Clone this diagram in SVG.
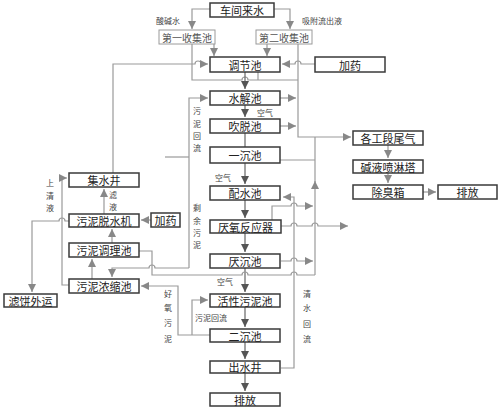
<svg xmlns="http://www.w3.org/2000/svg" width="500" height="411" viewBox="0 0 500 411">
<style>
.b rect{fill:#fff;stroke:#3a3a3a;stroke-width:1.5}
.g rect{fill:#fff;stroke:#9a9a9a;stroke-width:1}
text{font-family:"Noto Sans CJK SC","Noto Sans CJK JP",sans-serif;fill:#222}
.t{font-size:11px;text-anchor:middle;dominant-baseline:central}
.g text{fill:#555}
.s{font-size:8px;fill:#444}
.v{font-size:8px;fill:#444;text-anchor:middle;dominant-baseline:central}
.c path{fill:none;stroke:#9a9a9a;stroke-width:1.2}
.c path.m{stroke:#666}
</style>
<defs>
<marker id="a" markerUnits="userSpaceOnUse" markerWidth="8" markerHeight="8" refX="8" refY="4" orient="auto"><path d="M0,0 L8,4 L0,8 z" fill="#888"/></marker>
<marker id="d" markerUnits="userSpaceOnUse" markerWidth="8" markerHeight="8" refX="8" refY="4" orient="auto"><path d="M0,0 L8,4 L0,8 z" fill="#555"/></marker>
</defs>
<rect width="500" height="411" fill="#fff"/>

<g class="c">
<!-- top feeds -->
<path d="M210,9 H192 V29" marker-end="url(#a)"/>
<path d="M274,9 H290 V29" marker-end="url(#a)"/>
<path d="M214,44 V56" marker-end="url(#a)"/>
<path d="M267,44 V56" marker-end="url(#a)"/>
<!-- gas collection -->
<path d="M192,44 V80 H242 a3,3 0 0 1 6,0 H298"/>
<path d="M258,72 V80"/>
<path d="M298,44 V137 H351" marker-end="url(#a)"/>
<path d="M315,64 H301 a3,3 0 0 0 -6,0 H282" marker-end="url(#a)"/>
<path d="M113,173 V64 H195 a3,3 0 0 1 6,0 H208" marker-end="url(#a)"/>
<path d="M280,98 H296" marker-end="url(#a)"/>
<path d="M280,126 H296" marker-end="url(#a)"/>
<path d="M280,160 H315"/>
<path d="M315,275 V181" marker-end="url(#a)"/>
<path d="M315,182 V137"/>
<path d="M272,220 V206 H291 a3,3 0 0 1 6,0 H313" marker-end="url(#a)"/>
<path d="M281,226 H291 a3,3 0 0 1 6,0 H312 a3,3 0 0 1 6,0 H348" marker-end="url(#a)"/>
<path d="M281,261 H291 a3,3 0 0 1 6,0 H313" marker-end="url(#a)"/>
<!-- main chain -->
<path class="m" d="M245,72 V89" marker-end="url(#d)"/>
<path class="m" d="M245,105 V117" marker-end="url(#d)"/>
<path class="m" d="M245,133 V147"/>
<path class="m" d="M245,163 V184" marker-end="url(#d)"/>
<path class="m" d="M245,200 V218" marker-end="url(#d)"/>
<path class="m" d="M245,233 V252" marker-end="url(#d)"/>
<path class="m" d="M245,268 V292" marker-end="url(#d)"/>
<path class="m" d="M245,307 V327" marker-end="url(#d)"/>
<path class="m" d="M245,342 V359" marker-end="url(#d)"/>
<path class="m" d="M245,373 V391" marker-end="url(#d)"/>
<!-- clear water return -->
<path d="M281,368 H294 V197 H283" marker-end="url(#a)"/>
<!-- sludge lines -->
<path d="M189,268 V98 H208" marker-end="url(#a)"/>
<path d="M165,157 H189"/>
<path d="M189,268 H155 a3,3 0 0 0 -6,0 H112 V277" marker-end="url(#a)"/>
<path d="M139,251 H152 V275 H242 a3,3 0 0 1 6,0 H291 a3,3 0 0 1 6,0 H315"/>
<path d="M210,335 H178 V286 H141" marker-end="url(#a)"/>
<path d="M192,335 V300 H208" marker-end="url(#a)"/>
<path d="M69,285 H62 V178 H67" marker-end="url(#a)"/>
<path d="M104,214 V189" marker-end="url(#a)"/>
<path d="M151,220 H141" marker-end="url(#a)"/>
<path d="M69,221 H65 a3,3 0 0 0 -6,0 H32 V292" marker-end="url(#a)"/>
<path d="M112,243 V229" marker-end="url(#a)"/>
<path d="M92,279 V259" marker-end="url(#a)"/>
<!-- deodorize -->
<path d="M388,145 V158" marker-end="url(#a)"/>
<path d="M388,173 V183" marker-end="url(#a)"/>
<path d="M423,192 H436" marker-end="url(#a)"/>
</g>

<g id="n-chejian" class="b"><rect x="210" y="3" width="64" height="14"/><text class="t" x="242" y="10">车间来水</text></g>
<g id="n-shouji1" class="g"><rect x="159" y="30" width="56" height="14"/><text class="t" x="187" y="37" style="font-size:10px">第一收集池</text></g>
<g id="n-shouji2" class="g"><rect x="256" y="30" width="56" height="14"/><text class="t" x="284" y="37" style="font-size:10px">第二收集池</text></g>
<g id="n-tiaojie" class="b"><rect x="210" y="57" width="70" height="15"/><text class="t" x="245" y="64.5">调节池</text></g>
<g id="n-jiayao1" class="b"><rect x="315" y="57" width="70" height="15"/><text class="t" x="350" y="64.5">加药</text></g>
<g id="n-shuijie" class="b"><rect x="210" y="91" width="70" height="14"/><text class="t" x="245" y="98">水解池</text></g>
<g id="n-chuitou" class="b"><rect x="210" y="119" width="70" height="14"/><text class="t" x="245" y="126">吹脱池</text></g>
<g id="n-yichen" class="b"><rect x="210" y="147" width="70" height="16"/><text class="t" x="245" y="155">一沉池</text></g>
<g id="n-peishui" class="b"><rect x="210" y="186" width="70" height="14"/><text class="t" x="245" y="193">配水池</text></g>
<g id="n-yanyang" class="b"><rect x="210" y="220" width="71" height="13"/><text class="t" x="245.5" y="226.5">厌氧反应器</text></g>
<g id="n-yanchen" class="b"><rect x="210" y="254" width="70" height="14"/><text class="t" x="245" y="261">厌沉池</text></g>
<g id="n-huoxing" class="b"><rect x="210" y="294" width="70" height="13"/><text class="t" x="245" y="300.5">活性污泥池</text></g>
<g id="n-erchen" class="b"><rect x="210" y="329" width="70" height="13"/><text class="t" x="245" y="335.5">二沉池</text></g>
<g id="n-chushui" class="b"><rect x="210" y="361" width="70" height="12"/><text class="t" x="245" y="367">出水井</text></g>
<g id="n-paifang1" class="b"><rect x="210" y="393" width="70" height="13"/><text class="t" x="245" y="399.5">排放</text></g>
<g id="n-jishui" class="b"><rect x="69" y="173" width="70" height="14"/><text class="t" x="104" y="180">集水井</text></g>
<g id="n-tuoshui" class="b"><rect x="69" y="214" width="70" height="13"/><text class="t" x="104" y="220.5">污泥脱水机</text></g>
<g id="n-jiayao2" class="b"><rect x="151" y="213" width="29" height="14"/><text class="t" x="165.5" y="220">加药</text></g>
<g id="n-tiaoli" class="b"><rect x="69" y="243" width="70" height="14"/><text class="t" x="104" y="250">污泥调理池</text></g>
<g id="n-nongsuo" class="b"><rect x="69" y="279" width="70" height="14"/><text class="t" x="104" y="286">污泥浓缩池</text></g>
<g id="n-lvbing" class="b"><rect x="4" y="294" width="53" height="13"/><text class="t" x="30.5" y="300.5">滤饼外运</text></g>
<g id="n-weiqi" class="b"><rect x="353" y="131" width="70" height="14"/><text class="t" x="388" y="138">各工段尾气</text></g>
<g id="n-penlin" class="b"><rect x="353" y="160" width="70" height="13"/><text class="t" x="388" y="166.5">碱液喷淋塔</text></g>
<g id="n-chuchou" class="b"><rect x="353" y="185" width="70" height="14"/><text class="t" x="388" y="192">除臭箱</text></g>
<g id="n-paifang2" class="b"><rect x="438" y="185" width="59" height="14"/><text class="t" x="467.5" y="192">排放</text></g>

<g id="labels">
<text class="s" x="156" y="24">酸碱水</text>
<text class="s" x="302" y="24">吸附流出液</text>
<text class="s" x="257" y="116">空气</text>
<text class="s" x="215" y="181">空气</text>
<text class="s" x="217" y="285">空气</text>
<text class="s" x="195" y="321">污泥回流</text>
<text class="v" x="197" y="110">污</text><text class="v" x="197" y="123">泥</text><text class="v" x="197" y="135">回</text><text class="v" x="197" y="147">流</text>
<text class="v" x="197" y="207">剩</text><text class="v" x="197" y="220">余</text><text class="v" x="197" y="232">污</text><text class="v" x="197" y="244">泥</text>
<text class="v" x="50" y="182">上</text><text class="v" x="50" y="195">清</text><text class="v" x="50" y="207">液</text>
<text class="v" x="113" y="194">滤</text><text class="v" x="113" y="206">液</text>
<text class="v" x="168" y="293">好</text><text class="v" x="168" y="307">氧</text><text class="v" x="168" y="322">污</text><text class="v" x="168" y="338">泥</text>
<text class="v" x="307" y="293">清</text><text class="v" x="307" y="307">水</text><text class="v" x="307" y="323">回</text><text class="v" x="307" y="338">流</text>
</g>
</svg>
